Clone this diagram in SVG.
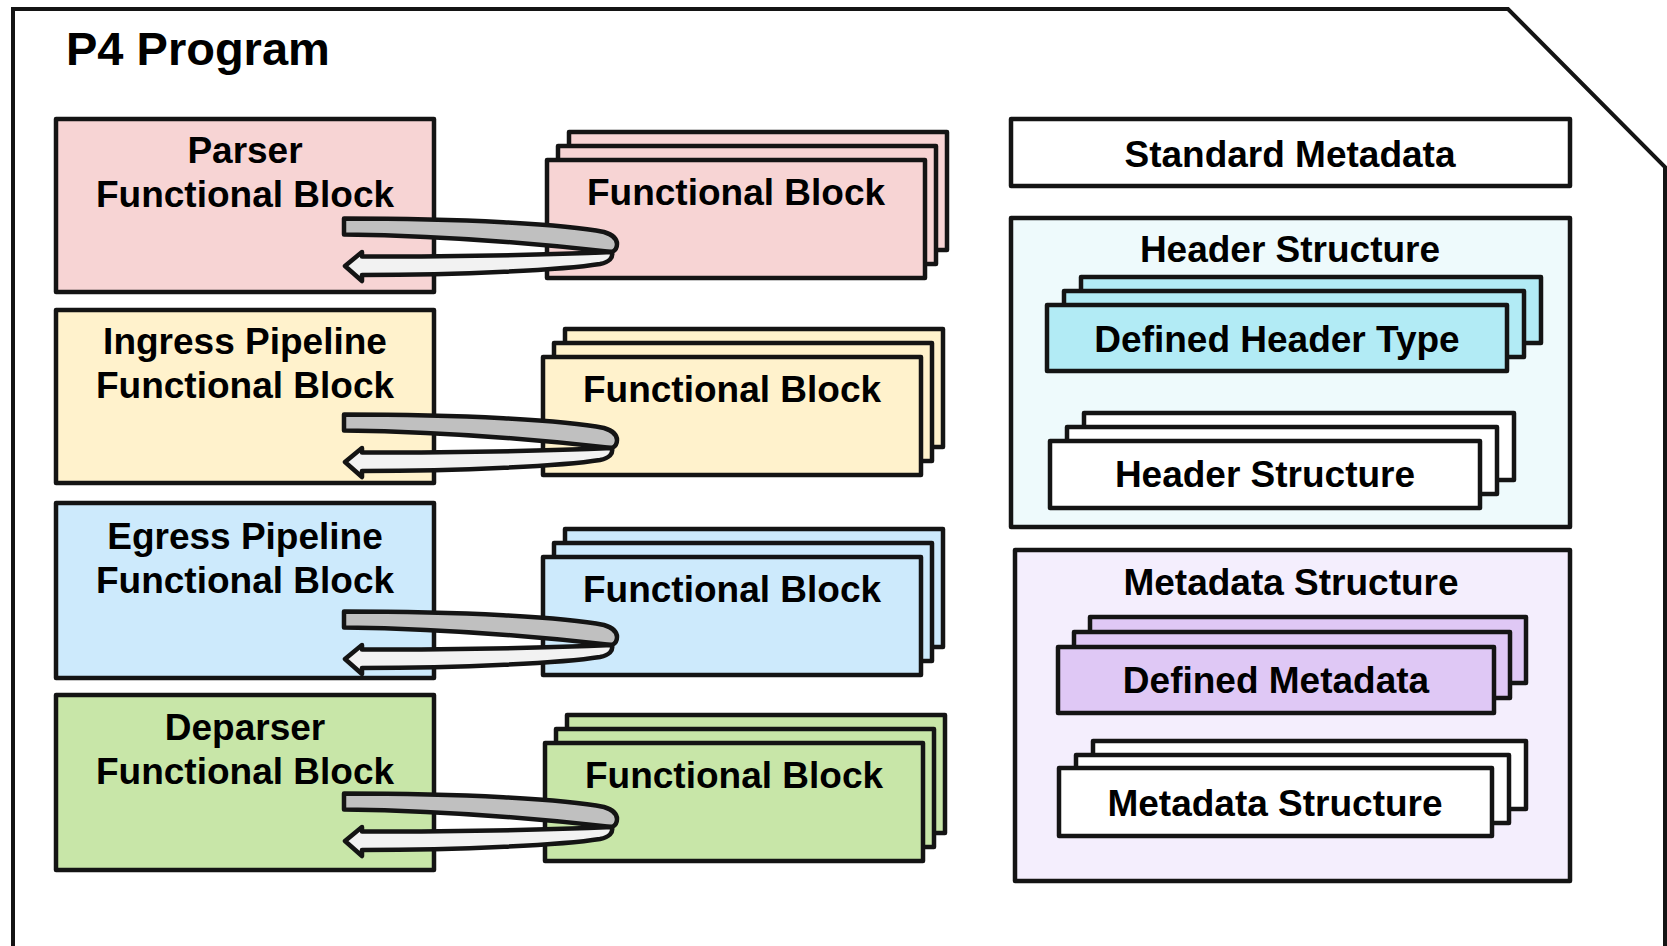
<svg xmlns="http://www.w3.org/2000/svg" width="1667" height="946" viewBox="0 0 1667 946">
  <style>
    .box { stroke: #141414; stroke-width: 4.5; stroke-linejoin: round; }
    .lbl { font-family: "Liberation Sans", Arial, sans-serif; font-weight: bold; font-size: 37px; fill: #000; text-anchor: middle; }
    .title { font-family: "Liberation Sans", Arial, sans-serif; font-weight: bold; font-size: 47px; fill: #000; }
    .band { stroke: #141414; stroke-width: 4.5; stroke-linejoin: round; }
    .pink { fill: #f7d4d4; }
    .yellow { fill: #fff2cc; }
    .blue { fill: #cdeafc; }
    .green { fill: #c8e6a8; }
    .white { fill: #ffffff; }
    .cyan { fill: #b2ebf5; }
    .cyanbg { fill: #eefafc; }
    .lilac { fill: #dfc8f5; }
    .lilacbg { fill: #f4eefd; }
  </style>
  <defs>
    <!-- three stacked cards, front card origin at 0,0 -->
    <g id="fbStack">
      <rect class="box" x="22" y="-28" width="378" height="118"/>
      <rect class="box" x="11" y="-14" width="378" height="118"/>
      <rect class="box" x="0" y="0" width="378" height="118"/>
    </g>
    <!-- folded U-turn arrow, origin at the top-left of the upper band -->
    <g id="uturn">
      <path class="band" fill="#c0c0c0" d="M2,1.5 C120,1.5 222,7 262,15 Q275,19 275,27 Q275,33 270,35 C226,30 120,19 2,17.5 Z"/>
      <path class="band" fill="#f2f2f2" d="M270,35 C226,37 120,39.5 20,39.5 L20,35 L3,49 L20,64 L20,58 C120,58 220,53 258,47 Q272,44 270,35 Z"/>
    </g>
  </defs>

  <rect width="1667" height="946" fill="#ffffff"/>

  <!-- program frame with cut corner -->
  <g id="program">
    <path d="M13,960 L13,9 L1508,9 L1665,167 L1665,960" fill="#ffffff" stroke="#141414" stroke-width="4"/>
    <text class="title" x="66" y="65">P4 Program</text>
  </g>

  <!-- left column: control blocks -->
  <g id="parser">
    <rect class="box pink" x="56" y="119" width="378" height="173"/>
    <text class="lbl" x="245" y="163">Parser</text>
    <text class="lbl" x="245" y="207">Functional Block</text>
  </g>
  <g id="ingress">
    <rect class="box yellow" x="56" y="310" width="378" height="173"/>
    <text class="lbl" x="245" y="354">Ingress Pipeline</text>
    <text class="lbl" x="245" y="398">Functional Block</text>
  </g>
  <g id="egress">
    <rect class="box blue" x="56" y="503" width="378" height="175"/>
    <text class="lbl" x="245" y="549">Egress Pipeline</text>
    <text class="lbl" x="245" y="593">Functional Block</text>
  </g>
  <g id="deparser">
    <rect class="box green" x="56" y="695" width="378" height="175"/>
    <text class="lbl" x="245" y="740">Deparser</text>
    <text class="lbl" x="245" y="784">Functional Block</text>
  </g>

  <!-- stacked functional blocks -->
  <g id="parser-fb" class="pink">
    <use href="#fbStack" x="547" y="160"/>
    <text class="lbl" x="736" y="205">Functional Block</text>
  </g>
  <g id="ingress-fb" class="yellow">
    <use href="#fbStack" x="543" y="357"/>
    <text class="lbl" x="732" y="402">Functional Block</text>
  </g>
  <g id="egress-fb" class="blue">
    <use href="#fbStack" x="543" y="557"/>
    <text class="lbl" x="732" y="602">Functional Block</text>
  </g>
  <g id="deparser-fb" class="green">
    <use href="#fbStack" x="545" y="743"/>
    <text class="lbl" x="734" y="788">Functional Block</text>
  </g>

  <!-- connectors: U-turn arrows between each block and its functional blocks -->
  <g id="connectors">
    <use href="#uturn" x="342" y="217"/>
    <use href="#uturn" x="342" y="413"/>
    <use href="#uturn" x="342" y="610"/>
    <use href="#uturn" x="342" y="792"/>
  </g>

  <!-- right column: data declarations -->
  <g id="standard-metadata">
    <rect class="box white" x="1011" y="119" width="559" height="67"/>
    <text class="lbl" x="1290" y="167">Standard Metadata</text>
  </g>

  <g id="header-structure">
    <rect class="box cyanbg" x="1011" y="218" width="559" height="309"/>
    <text class="lbl" x="1290" y="262">Header Structure</text>
  </g>
  <g id="defined-header-type" class="cyan">
    <rect class="box" x="1081" y="277" width="460" height="66"/>
    <rect class="box" x="1064" y="291" width="460" height="66"/>
    <rect class="box" x="1047" y="305" width="460" height="66"/>
    <text class="lbl" x="1277" y="352">Defined Header Type</text>
  </g>
  <g id="header-structure-inner" class="white">
    <rect class="box" x="1084" y="413" width="430" height="67"/>
    <rect class="box" x="1067" y="427" width="430" height="67"/>
    <rect class="box" x="1050" y="441" width="430" height="67"/>
    <text class="lbl" x="1265" y="487">Header Structure</text>
  </g>

  <g id="metadata-structure">
    <rect class="box lilacbg" x="1015" y="550" width="555" height="331"/>
    <text class="lbl" x="1291" y="595">Metadata Structure</text>
  </g>
  <g id="defined-metadata" class="lilac">
    <rect class="box" x="1090" y="617" width="436" height="66"/>
    <rect class="box" x="1074" y="632" width="436" height="66"/>
    <rect class="box" x="1058" y="647" width="436" height="66"/>
    <text class="lbl" x="1276" y="693">Defined Metadata</text>
  </g>
  <g id="metadata-structure-inner" class="white">
    <rect class="box" x="1093" y="741" width="433" height="68"/>
    <rect class="box" x="1076" y="755" width="433" height="68"/>
    <rect class="box" x="1059" y="768" width="433" height="68"/>
    <text class="lbl" x="1275" y="816">Metadata Structure</text>
  </g>
</svg>
